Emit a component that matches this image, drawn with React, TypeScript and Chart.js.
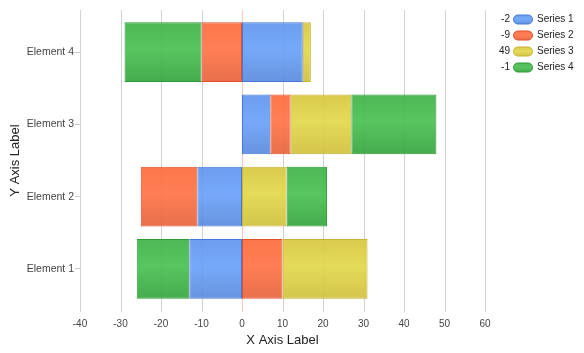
import React, { useEffect, useRef } from 'react';
import { Chart, registerables } from 'chart.js';

Chart.register(...registerables);

const categories = ['Element 1', 'Element 2', 'Element 3', 'Element 4'];
const seriesNames = ['Series 1', 'Series 2', 'Series 3', 'Series 4'];
const series1 = [-13, -11, 7, 15];
const series2 = [10, -14, 5, -10];
const series3 = [21, 11, 15, 2];
const series4 = [-13, 10, 21, -19];
const xMin = -40;
const xMax = 60;
const xStep = 10;

type Pal = { top: string; mid: string; bottom: string; border: string };
const palettes: Pal[] = [
  { top: 'rgba(96,148,236,0.92)', mid: 'rgba(106,162,248,0.92)', bottom: 'rgba(90,138,220,0.92)', border: 'rgba(70,120,220,1)' },
  { top: 'rgba(252,106,60,0.92)', mid: 'rgba(255,116,70,0.92)', bottom: 'rgba(230,98,62,0.92)', border: 'rgba(224,80,40,1)' },
  { top: 'rgba(214,198,62,0.92)', mid: 'rgba(226,216,74,0.92)', bottom: 'rgba(208,192,62,0.92)', border: 'rgba(200,180,48,1)' },
  { top: 'rgba(62,178,70,0.92)', mid: 'rgba(74,192,82,0.92)', bottom: 'rgba(54,164,62,0.92)', border: 'rgba(44,156,52,1)' },
];

const FONT = "'Liberation Sans', Arial, sans-serif";

function barFill(ctx: any, p: Pal) {
  const chart = ctx.chart;
  const ys = chart.scales && chart.scales.y;
  if (!chart.chartArea || !ys || ctx.dataIndex === undefined) return p.mid;
  const yc = ys.getPixelForValue(ctx.dataIndex);
  const g = chart.ctx.createLinearGradient(0, yc - 30, 0, yc + 30);
  g.addColorStop(0, p.top);
  g.addColorStop(0.45, p.mid);
  g.addColorStop(1, p.bottom);
  return g;
}

const gridPlugin = {
  id: 'customGrid',
  beforeDatasetsDraw(chart: any) {
    const { ctx, chartArea } = chart;
    const xs = chart.scales.x;
    const top = chartArea.top - 6;
    const bottom = chartArea.bottom + 7;
    ctx.save();
    ctx.lineWidth = 1;
    xs.ticks.forEach((t: any) => {
      const x = Math.round(xs.getPixelForValue(t.value)) + 0.5;
      ctx.strokeStyle = t.value === 0 ? '#ffc4c4' : '#d2d2d2';
      ctx.beginPath();
      ctx.moveTo(x, top);
      ctx.lineTo(x, bottom);
      ctx.stroke();
    });
    ctx.restore();
  },
};

const legendPlugin = {
  id: 'customLegend',
  afterDraw(chart: any) {
    const { ctx } = chart;
    const all = [series1, series2, series3, series4];
    ctx.save();
    ctx.font = `10px ${FONT}`;
    ctx.textBaseline = 'middle';
    all.forEach((s, i) => {
      const total = s.reduce((a, b) => a + b, 0);
      const y = 19.5 + i * 16;
      const p = palettes[i];
      ctx.fillStyle = '#222';
      ctx.textAlign = 'right';
      ctx.fillText(String(total), 510, y);
      const bx = 513.5, bw = 19, bh = 9, by = y - 4.5, r = 4.5;
      const g = ctx.createLinearGradient(0, by, 0, by + bh);
      g.addColorStop(0, p.top);
      g.addColorStop(0.45, p.mid);
      g.addColorStop(1, p.bottom);
      ctx.beginPath();
      ctx.moveTo(bx + r, by);
      ctx.lineTo(bx + bw - r, by);
      ctx.arc(bx + bw - r, by + r, r, -Math.PI / 2, Math.PI / 2);
      ctx.lineTo(bx + r, by + bh);
      ctx.arc(bx + r, by + r, r, Math.PI / 2, (3 * Math.PI) / 2);
      ctx.closePath();
      ctx.fillStyle = g;
      ctx.fill();
      ctx.strokeStyle = p.border;
      ctx.lineWidth = 1;
      ctx.stroke();
      ctx.fillStyle = '#222';
      ctx.textAlign = 'left';
      ctx.fillText(seriesNames[i], 537, y);
    });
    ctx.restore();
  },
};

export default function App() {
  const ref = useRef<HTMLCanvasElement | null>(null);
  useEffect(() => {
    document.body.style.margin = '0';
    const canvas = ref.current;
    if (!canvas) return;
    const data = [series1, series2, series3, series4];
    const chart = new Chart(canvas, {
      type: 'bar',
      data: {
        labels: categories,
        datasets: data.map((d, i) => ({
          label: seriesNames[i],
          data: d,
          backgroundColor: (c: any) => barFill(c, palettes[i]),
          borderColor: palettes[i].border,
          borderWidth: 1,
          borderSkipped: false,
          categoryPercentage: 0.83,
          barPercentage: 1,
        })),
      },
      options: {
        indexAxis: 'y',
        responsive: false,
        animation: false,
        layout: { padding: { top: 16, right: 99, left: 0, bottom: 0 } },
        plugins: {
          legend: { display: false },
          tooltip: { enabled: false },
        },
        scales: {
          x: {
            type: 'linear',
            stacked: true,
            min: xMin,
            max: xMax,
            ticks: { stepSize: xStep, color: '#444', font: { family: FONT, size: 10 }, padding: 13 },
            grid: { display: false, drawTicks: false },
            border: { display: false },
            title: { display: true, text: 'X Axis Label', color: '#222', font: { family: FONT, size: 13 }, padding: { top: 0, bottom: 5 } },
            afterFit: (s: any) => { s.height = 48; },
          },
          y: {
            type: 'category',
            stacked: true,
            reverse: true,
            ticks: { color: '#444', font: { family: FONT, size: 10.5 }, padding: 1 },
            grid: { display: true, drawOnChartArea: false, offset: false, tickLength: 5, color: '#cccccc' },
            border: { display: false },
            title: { display: true, text: 'Y Axis Label', color: '#222', font: { family: FONT, size: 13 }, padding: { top: 8, bottom: 0 } },
            afterFit: (s: any) => { s.width = 80; },
          },
        },
      },
      plugins: [gridPlugin, legendPlugin],
    } as any);
    return () => chart.destroy();
  }, []);
  return <canvas ref={ref} width={584} height={353} style={{ display: 'block', width: 584, height: 353 }} />;
}
